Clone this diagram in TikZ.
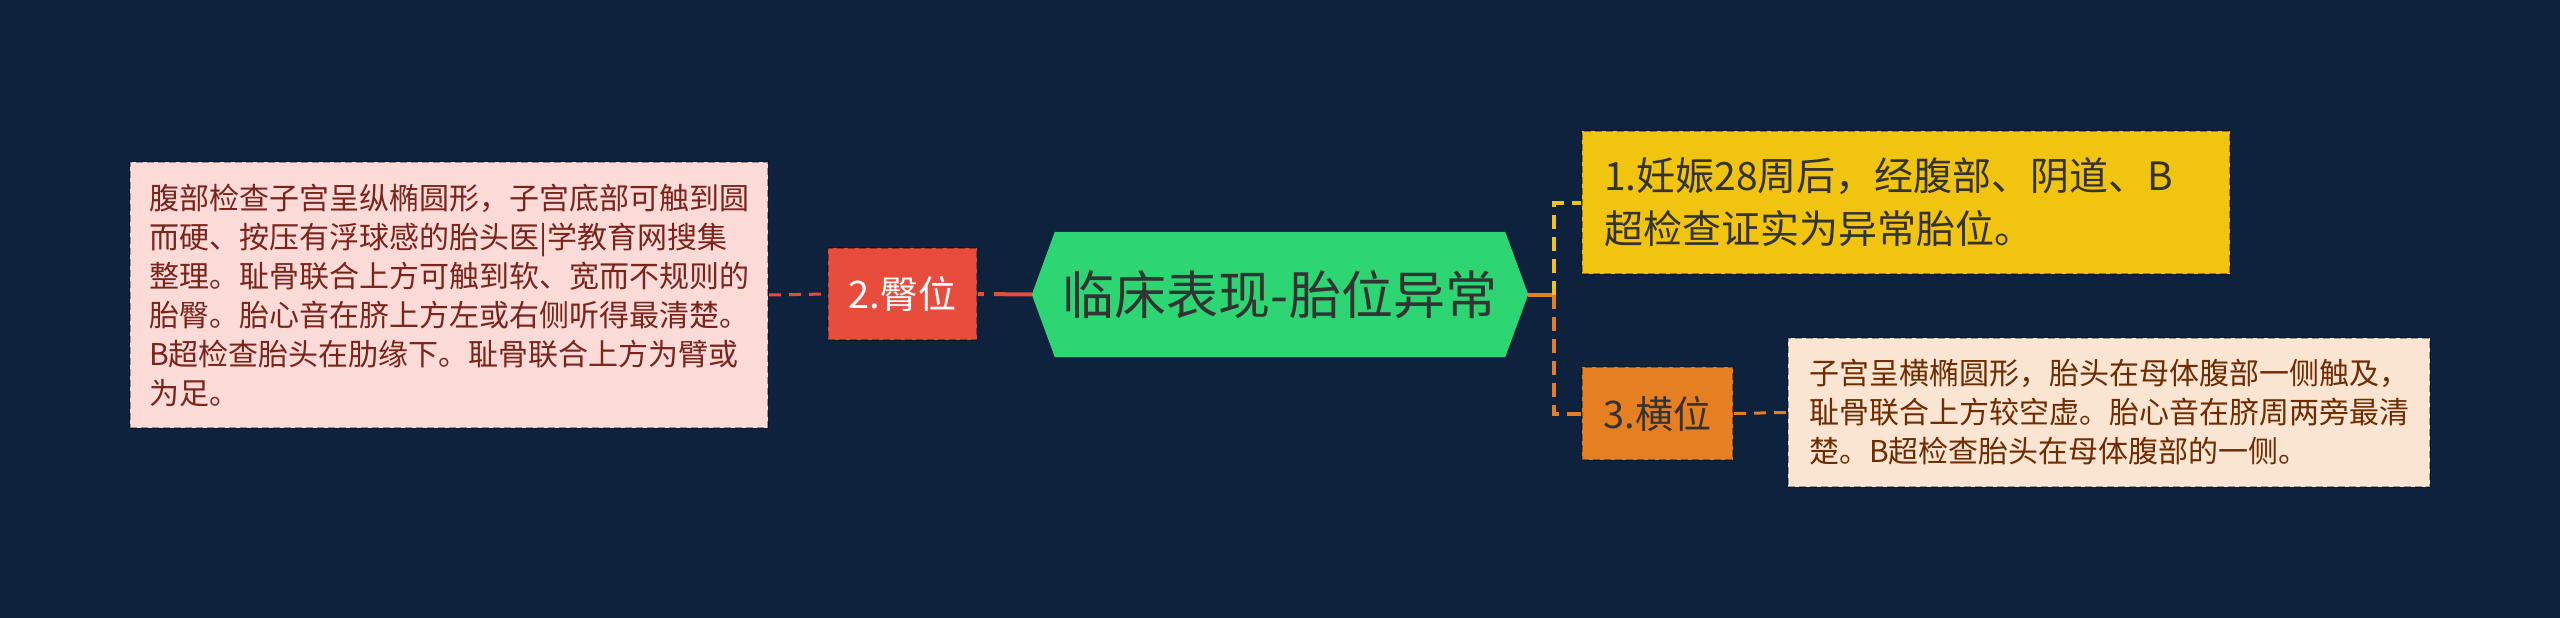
\documentclass[tikz,border=0pt]{standalone}
\usepackage{fontspec}
\setmainfont{Noto Sans CJK SC}
\usetikzlibrary{backgrounds}
\definecolor{bgc}{HTML}{0E223E}
\definecolor{pinkfill}{HTML}{FADBD8}
\definecolor{pinktext}{HTML}{7B241C}
\definecolor{beigefill}{HTML}{FAE5D3}
\definecolor{beigetext}{HTML}{6E2C00}
\definecolor{yelc}{HTML}{F1C40F}
\definecolor{yeltext}{HTML}{333333}
\definecolor{redc}{HTML}{E74C3C}
\definecolor{orc}{HTML}{E67E22}
\definecolor{ortext}{HTML}{333333}
\definecolor{greenc}{HTML}{2ED573}
\definecolor{hextext}{HTML}{333333}
\tikzset{
  tbox/.style={draw=black, draw opacity=0.35, line width=2pt, dash pattern=on 7pt off 4pt, inner sep=0pt, align=left},
  lbox/.style={draw=black, draw opacity=0.35, line width=2pt, dash pattern=on 7pt off 4pt, inner sep=0pt, align=center},
}
\begin{document}
\begin{tikzpicture}[x=1pt,y=-1pt]
\useasboundingbox (0,0) rectangle (2560,618);
\node[tbox, fill=pinkfill, text=pinktext, text width=600pt, minimum width=638pt, minimum height=266pt, font=\fontsize{30}{39}\selectfont] (pk) at (449,295) {腹部检查子宫呈纵椭圆形，子宫底部可触到圆\\而硬、按压有浮球感的胎头医|学教育网搜集\\整理。耻骨联合上方可触到软、宽而不规则的\\胎臀。胎心音在脐上方左或右侧听得最清楚。\\B超检查胎头在肋缘下。耻骨联合上方为臂或\\为足。};
\node[lbox, fill=redc, text=white, minimum width=149pt, minimum height=92pt, font=\fontsize{38}{46}\selectfont] (rd) at (902.5,294) {2.臀位};
\node[minimum width=496pt, minimum height=125pt, inner sep=0pt, text=hextext, font=\fontsize{52}{60}\selectfont] (hx) at (1280,294.5) {临床表现-胎位异常};
\node[tbox, fill=yelc, text=yeltext, text width=604pt, minimum width=648pt, minimum height=143pt, font=\fontsize{39}{53}\selectfont] (y1) at (1906,202.5) {1.妊娠28周后，经腹部、阴道、B\\超检查证实为异常胎位。};
\node[lbox, fill=orc, text=ortext, minimum width=151pt, minimum height=93pt, font=\fontsize{38}{46}\selectfont] (o3) at (1657.5,413.5) {3.横位};
\node[tbox, fill=beigefill, text=beigetext, text width=600pt, minimum width=642pt, minimum height=149pt, font=\fontsize{30}{39}\selectfont] (b3) at (2109,412.5) {子宫呈横椭圆形，胎头在母体腹部一侧触及，\\耻骨联合上方较空虚。胎心音在脐周两旁最清\\楚。B超检查胎头在母体腹部的一侧。};
\coordinate (J) at (1554,294.5);
\begin{scope}[on background layer]
\fill[bgc] (0,0) rectangle (2560,618);
\fill[greenc] (hx.west) -- ([xshift=23pt]hx.north west) -- ([xshift=-23pt]hx.north east) -- (hx.east) -- ([xshift=-23pt]hx.south east) -- ([xshift=23pt]hx.south west) -- cycle;
\end{scope}
\draw[redc, line width=3pt, dash pattern=on 12pt off 8pt] (pk.east) -- (rd.west);
\draw[redc, line width=4pt, dash pattern=on 38pt off 10pt] (hx.west) -- (rd.east);
\draw[orc, line width=4pt] (hx.east) -- (J);
\draw[yelc, line width=4pt, dash pattern=on 14pt off 8pt] (J) |- (y1.west);
\draw[orc, line width=4pt, dash pattern=on 14pt off 8pt] (J) |- (o3.west);
\draw[orc, line width=3pt, dash pattern=on 12pt off 8pt] (o3.east) -- (b3.west);
\end{tikzpicture}
\end{document}
